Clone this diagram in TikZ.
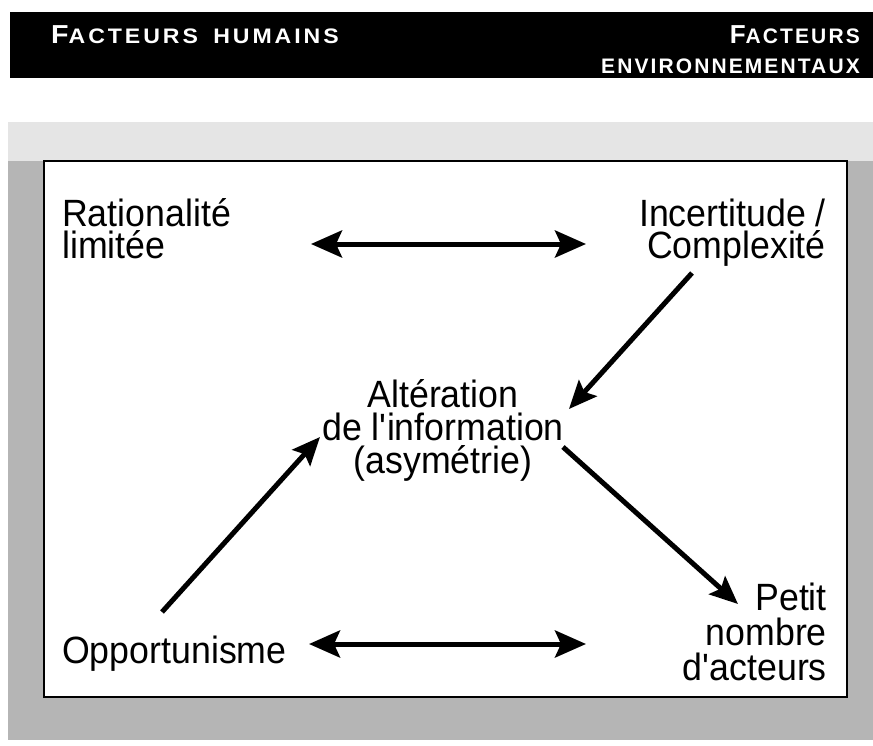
\documentclass[tikz,border=0pt]{standalone}
\usepackage{fontspec}
\setmainfont{Liberation Sans}[FakeStretch=0.94]
\newfontfamily\hdfont{Liberation Sans}[FakeStretch=1.0, LetterSpace=10]
\newfontfamily\hdwidefont{Liberation Sans}[FakeStretch=1.1, LetterSpace=14]
\usetikzlibrary{arrows.meta}

% header type sizes: initial capital and small capitals
\newcommand\hdbig{\fontsize{26}{30}\selectfont}
\newcommand\hdsmall{\fontsize{21}{30}\selectfont}

\begin{document}
\begin{tikzpicture}[x=1pt, y=-1pt,
  lbl/.style={inner sep=0pt, text=black},
  hd/.style={inner sep=0pt, text=white, font=\hdfont\bfseries\hdsmall},
  hdwide/.style={inner sep=0pt, text=white, font=\hdwidefont\bfseries\hdsmall},
  dbl/.style={line width=5pt,
    {Stealth[length=31pt, width=27pt, inset=6pt]}-{Stealth[length=31pt, width=27pt, inset=6pt]}},
  one/.style={line width=5pt, -{Stealth[length=28pt, width=24pt, inset=5pt]}}]

\useasboundingbox (0,0) rectangle (873,745);

% header band
\fill[black] (10,12) rectangle (873,78);

% shaded frame around the panel
\fill[gray!20] (8,122) rectangle (873,161);
\fill[gray!58] (8,161) rectangle (873,740);
\draw[fill=white, line width=1.6pt] (44,161) rectangle (847,697);

% header titles (multi-line nodes are anchored on their last baseline)
\node[hdwide, anchor=base west] (hum) at (51,43)
  {\hdbig F\hdsmall ACTEURS\hspace{6pt} HUMAINS};
\node[hd, anchor=base east, align=right] (env) at (860,73)
  {\hdbig F\hdsmall ACTEURS\\ENVIRONNEMENTAUX};

% factors
\node[lbl, anchor=base west, align=left, font=\fontsize{38}{32}\selectfont] (rat) at (62,258)
  {Rationalité\\limitée};
\node[lbl, anchor=base east, align=right, font=\fontsize{38}{32}\selectfont] (inc) at (826,258)
  {Incertitude /\\Complexité};
\node[lbl, anchor=base, align=center, font=\fontsize{38}{33}\selectfont] (alt) at (443,473)
  {Altération\\de l\textquotesingle information\\(asymétrie)};
\node[lbl, anchor=base west, font=\fontsize{38}{32}\selectfont] (opp) at (62,663)
  {Opportunisme};
\node[lbl, anchor=base east, align=right, font=\fontsize{38}{35}\selectfont] (pet) at (827,680)
  {Petit\\nombre\\d\textquotesingle acteurs};

% connector end points
\coordinate (rat-e) at (311,244);
\coordinate (inc-w) at (586,244);
\coordinate (opp-e) at (309,644);
\coordinate (pet-w) at (586,644);
\coordinate (inc-s) at (692,273);
\coordinate (alt-ne) at (569,409);
\coordinate (opp-n) at (162,612);
\coordinate (alt-w) at (320,437);
\coordinate (alt-se) at (563,447);
\coordinate (pet-nw) at (738,604);

% connectors
\draw[dbl] (rat-e) -- (inc-w);
\draw[dbl] (opp-e) -- (pet-w);
\draw[one] (inc-s) -- (alt-ne);
\draw[one] (opp-n) -- (alt-w);
\draw[one] (alt-se) -- (pet-nw);
\end{tikzpicture}
\end{document}
